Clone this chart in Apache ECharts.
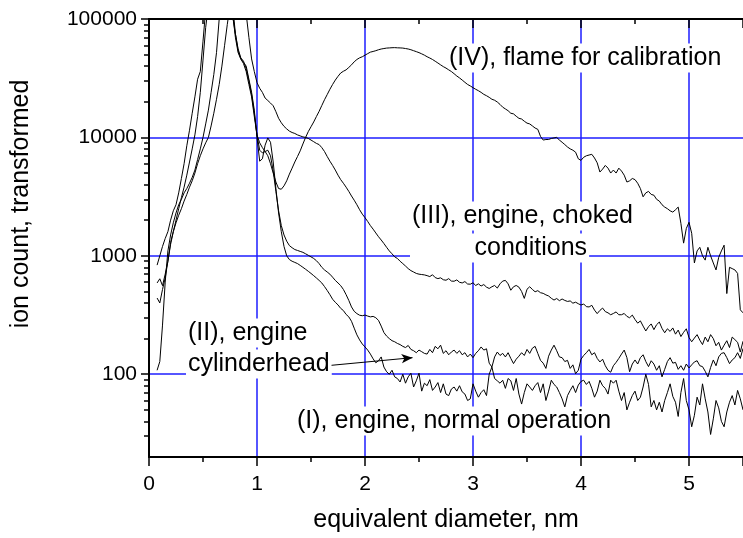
<!DOCTYPE html>
<html>
<head>
<meta charset="utf-8">
<script src="https://cdn.jsdelivr.net/npm/echarts@6/dist/echarts.min.js"></script>
<style>
  html, body { margin: 0; padding: 0; background: #fff; }
  #chart { width: 743px; height: 538px; }
</style>
</head>
<body>
<div id="chart"></div>
<script>
// Sampling grid of the mobility spectra (equivalent diameter, nm)
const diameter = [
  0.075,0.1,0.125,0.15,0.175,0.2,0.225,0.25,0.275,0.3,
  0.325,0.35,0.375,0.4,0.425,0.45,0.475,0.5,0.525,0.55,
  0.575,0.6,0.625,0.65,0.675,0.7,0.725,0.75,0.775,0.8,
  0.825,0.85,0.875,0.9,0.925,0.95,0.975,1,1.025,1.05,
  1.075,1.1,1.125,1.15,1.175,1.2,1.225,1.25,1.275,1.3,
  1.325,1.35,1.375,1.4,1.425,1.45,1.475,1.5,1.525,1.55,
  1.575,1.6,1.625,1.65,1.675,1.7,1.725,1.75,1.775,1.8,
  1.825,1.85,1.875,1.9,1.925,1.95,1.975,2,2.025,2.05,
  2.075,2.1,2.125,2.15,2.175,2.2,2.225,2.25,2.275,2.3,
  2.325,2.35,2.375,2.4,2.425,2.45,2.475,2.5,2.525,2.55,
  2.575,2.6,2.625,2.65,2.675,2.7,2.725,2.75,2.775,2.8,
  2.825,2.85,2.875,2.9,2.925,2.95,2.975,3,3.025,3.05,
  3.075,3.1,3.125,3.15,3.175,3.2,3.225,3.25,3.275,3.3,
  3.325,3.35,3.375,3.4,3.425,3.45,3.475,3.5,3.525,3.55,
  3.575,3.6,3.625,3.65,3.675,3.7,3.725,3.75,3.775,3.8,
  3.825,3.85,3.875,3.9,3.925,3.95,3.975,4,4.025,4.05,
  4.075,4.1,4.125,4.15,4.175,4.2,4.225,4.25,4.275,4.3,
  4.325,4.35,4.375,4.4,4.425,4.45,4.475,4.5,4.525,4.55,
  4.575,4.6,4.625,4.65,4.675,4.7,4.725,4.75,4.775,4.8,
  4.825,4.85,4.875,4.9,4.925,4.95,4.975,5,5.025,5.05,
  5.075,5.1,5.125,5.15,5.175,5.2,5.225,5.25,5.275,5.3,
  5.325,5.35,5.375,5.4,5.425,5.45,5.475,5.5
];

// (I) engine, normal operation
const normalOperation = [
  108,128,260,600,1100,1500,1900,2300,2700,3000,
  3400,3700,4100,4600,5300,6500,8000,10000,13000,17000,
  24000,34000,52000,100000,160000,220000,240000,200000,130000,75000,
  54000,46000,43000,40000,31000,24000,17000,10000,6300,6600,
  8600,9900,9100,6200,3700,2300,1600,1200,1000,930,
  900,880,860,830,800,770,740,710,680,650,
  620,590,550,510,470,430,405,385,360,345,
  320,305,280,245,215,195,180,170,160,148,
  135,125,130,140,115,105,100,108,95,92,
  86,100,84,95,102,78,88,102,72,84,
  80,90,73,78,85,70,83,68,66,75,
  78,72,80,71,68,60,62,83,72,64,
  70,74,66,100,115,92,88,84,89,76,
  92,88,73,92,68,56,70,83,78,73,
  80,85,70,83,60,72,89,82,78,70,
  62,53,66,73,80,70,81,87,89,82,
  87,76,64,72,89,80,76,68,89,84,
  89,72,60,70,50,58,66,72,60,64,
  78,100,82,53,60,50,58,48,60,70,
  83,65,58,44,70,92,60,50,36,45,
  64,55,83,62,48,31,42,60,52,40,
  36,48,58,66,55,73,62,50
];

// (II) engine, cylinderhead
const cylinderHead = [
  590,640,560,700,900,1250,1600,2000,2500,3100,
  3800,4800,6200,8000,10500,15000,24000,45000,85000,130000,
  180000,220000,250000,260000,250000,220000,180000,140000,105000,75000,
  56000,47000,44000,38000,30000,23000,16000,10500,7800,7400,
  7600,7800,7000,5200,3500,2400,1800,1500,1330,1220,
  1170,1130,1110,1090,1070,1040,1010,980,950,910,
  860,800,760,730,700,660,620,590,560,520,
  470,420,370,340,325,315,312,316,310,305,
  308,300,285,255,225,210,200,192,188,182,
  178,172,168,175,162,158,152,160,155,150,
  148,162,152,172,164,176,150,158,146,154,
  160,150,158,146,152,140,148,138,150,158,
  170,160,164,124,115,140,154,144,150,140,
  152,136,123,134,142,152,144,162,150,166,
  172,150,131,124,112,142,160,176,158,140,
  138,128,131,112,120,101,108,134,144,152,
  162,146,152,136,127,134,118,108,104,118,
  126,136,148,160,138,105,122,132,122,138,
  146,128,116,130,122,108,118,95,110,128,
  138,124,126,110,118,108,122,113,120,127,
  130,118,116,106,95,114,132,118,140,150,
  152,138,123,132,138,152,136,165
];

// (III) engine, choked conditions
const chokedConditions = [
  440,400,520,650,900,1300,1600,1900,2200,2500,
  2900,3300,3800,4300,5000,6000,7000,8000,9000,10000,
  12500,16000,21000,28000,40000,60000,90000,130000,180000,220000,
  260000,220000,160000,110000,70000,46000,36000,29000,26000,24000,
  21500,20500,19500,18500,16500,14500,13300,12400,11800,11300,
  11000,10800,10500,10300,10100,10000,9800,9500,9200,8900,
  8700,8200,7600,6900,6300,5800,5300,4800,4400,4100,
  3800,3500,3200,2950,2700,2450,2250,2100,1950,1800,
  1680,1560,1450,1360,1270,1180,1100,1040,980,950,
  900,860,820,780,750,730,710,700,695,690,
  680,668,692,655,642,652,628,622,642,612,
  610,626,598,590,606,578,576,592,562,580,
  556,572,544,530,548,562,534,580,612,620,
  580,512,548,562,544,500,437,522,548,520,
  497,508,488,482,468,458,438,423,436,418,
  432,420,412,416,398,406,394,384,392,372,
  370,382,348,325,346,362,338,330,318,326,
  336,318,318,326,308,300,316,290,270,282,
  255,232,252,266,238,262,276,244,224,242,
  230,246,218,236,208,226,242,204,188,202,
  216,194,178,206,188,216,200,174,186,160,
  176,192,168,206,196,186,154,190
];

// (IV) flame for calibration
const flameCalibration = [
  835,1000,1200,1400,1600,2000,2400,2700,3400,4500,
  6000,8500,11500,16000,22000,31000,36000,65000,120000,180000,
  250000,300000,320000,300000,280000,260000,230000,190000,110000,70000,
  52000,46000,42000,36000,28000,22000,15000,10500,9000,8200,
  7600,7000,6000,5000,4200,3700,3650,3900,4300,4900,
  5500,6200,6900,7700,8800,10000,11200,12300,13500,15000,
  16600,18600,20800,23000,25500,28000,30500,32800,35000,36200,
  37200,39000,41000,43500,45500,47000,48000,49500,51000,52500,
  53200,54000,55000,55800,56300,56800,57000,57200,57300,57100,
  57000,56800,56300,55800,55000,54000,53000,52000,50800,49500,
  48000,46800,45500,44000,42500,41000,39600,38500,37200,36000,
  34500,33000,31800,30500,29200,28000,27200,26300,25500,24800,
  24000,23100,22500,21800,21000,20600,19900,19000,18000,17400,
  16800,16000,15800,15100,14500,14300,13700,13200,13000,12500,
  12000,11700,10200,9500,9600,9600,9800,9900,10000,9500,
  9100,8700,8300,8000,7800,7500,6600,6400,6800,7000,
  7100,7200,6700,6100,5100,5400,5800,5500,5000,5300,
  5000,5500,5200,4800,4200,4300,4500,4400,4100,3700,
  3150,3400,3500,3300,3250,3000,2900,2700,2580,2500,
  2400,2340,2450,2580,1880,1280,1700,1920,1550,870,
  1100,1180,1000,920,1180,1000,870,760,970,1100,
  1230,480,800,780,760,710,350,330
];

// Intermediate log-axis ticks (2..9 of each decade)
const yMinorTicks = [30,40,50,60,70,80,90,
  200,300,400,500,600,700,800,900,
  2000,3000,4000,5000,6000,7000,8000,9000,
  20000,30000,40000,50000,60000,70000,80000,90000];

// Arrow from the (II) caption to its curve, in data coordinates
const arrowFrom = [1.69, 119];
const arrowTo = [2.44, 138];

const FONT = '"Liberation Sans", Arial, Helvetica, sans-serif';
const GRID_BLUE = '#1e1eff';

function toPairs(values) {
  return diameter.map(function (d, i) { return [d, values[i]]; });
}

function curve(name, values, extra) {
  return Object.assign({
    name: name,
    type: 'line',
    data: toPairs(values),
    showSymbol: false,
    symbol: 'none',
    clip: true,
    z: 3,
    lineStyle: { color: '#000', width: 1 }
  }, extra || {});
}

const axisBlack = { color: '#000', width: 2 };
const tickBlack = { color: '#000', width: 1.5 };
const gridLine = { color: GRID_BLUE, width: 1.5 };

function caption(text, left, middleY) {
  return {
    type: 'text',
    x: left - 2,
    y: middleY,
    z: 1,
    style: {
      text: text,
      font: '25px ' + FONT,
      fill: '#000',
      backgroundColor: '#fff',
      padding: [2, 2, 2, 2],
      verticalAlign: 'middle',
      align: 'left'
    }
  };
}

const chart = echarts.init(document.getElementById('chart'), null, { renderer: 'canvas' });

chart.setOption({
  animation: false,
  backgroundColor: '#fff',
  grid: { left: 149, top: 19, right: -2, bottom: 80, containLabel: false },
  xAxis: [
    {
      type: 'value', position: 'bottom', min: 0, max: 5.5, interval: 1,
      axisLine: { lineStyle: axisBlack },
      axisTick: { length: 9, lineStyle: tickBlack },
      minorTick: { show: true, splitNumber: 2, length: 5, lineStyle: tickBlack },
      axisLabel: { fontFamily: FONT, fontSize: 21, color: '#000', margin: 17, showMaxLabel: false },
      splitLine: { show: true, showMinLine: false, showMaxLine: false, lineStyle: gridLine },
      name: 'equivalent diameter, nm', nameLocation: 'middle', nameGap: 51,
      nameTextStyle: { fontFamily: FONT, fontSize: 25, color: '#000' }
    },
    {
      type: 'value', position: 'top', min: 0, max: 5.5, interval: 1,
      axisLine: { lineStyle: axisBlack },
      axisTick: { inside: true, length: 9, lineStyle: tickBlack },
      minorTick: { show: true, splitNumber: 2, length: 5, lineStyle: tickBlack },
      axisLabel: { show: false },
      splitLine: { show: false }
    }
  ],
  yAxis: [
    {
      type: 'log', logBase: 10, min: 20, max: 100000,
      axisLine: { lineStyle: axisBlack },
      axisTick: { length: 8, lineStyle: tickBlack },
      axisLabel: {
        fontFamily: FONT, fontSize: 21, color: '#000', margin: 12, showMinLabel: false,
        formatter: function (v) { return String(Math.round(v)); }
      },
      splitLine: { show: true, showMinLine: false, showMaxLine: false, lineStyle: gridLine }
    },
    {
      type: 'log', logBase: 10, min: 20, max: 100000, position: 'left',
      axisLine: { show: false },
      axisTick: { length: 5, lineStyle: tickBlack, customValues: yMinorTicks },
      axisLabel: { show: false },
      splitLine: { show: false }
    }
  ],
  graphic: [
    {
      type: 'text', x: 21, y: 204, rotation: Math.PI / 2, z: 1,
      style: { text: 'ion count, transformed', font: '25px ' + FONT, fill: '#000', align: 'center', verticalAlign: 'middle' }
    },
    caption('(IV), flame for calibration', 449, 58),
    caption('(III), engine, choked', 412, 216),
    caption('         conditions', 412, 248),
    caption('(II), engine', 188, 333),
    caption('cylinderhead', 188, 364),
    caption('(I), engine, normal operation', 297, 421)
  ],
  series: [
    curve('(I), engine, normal operation', normalOperation),
    curve('(II), engine cylinderhead', cylinderHead, {
      markLine: {
        silent: true,
        symbol: ['none', 'arrow'],
        symbolSize: [7, 11],
        label: { show: false },
        lineStyle: { color: '#000', width: 1, type: 'solid' },
        data: [[{ coord: arrowFrom }, { coord: arrowTo }]]
      }
    }),
    curve('(III), engine, choked conditions', chokedConditions),
    curve('(IV), flame for calibration', flameCalibration)
  ]
});
</script>
</body>
</html>
